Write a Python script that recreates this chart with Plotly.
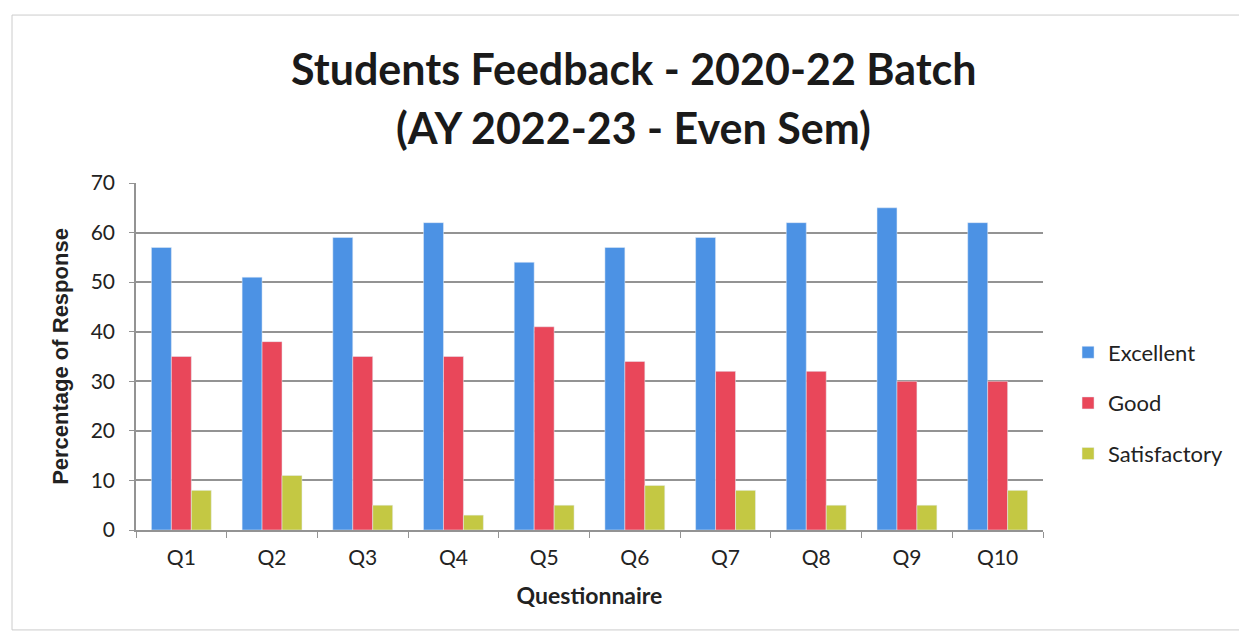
import plotly.graph_objects as go

categories = ["Q1", "Q2", "Q3", "Q4", "Q5", "Q6", "Q7", "Q8", "Q9", "Q10"]
excellent = [57, 51, 59, 62, 54, 57, 59, 62, 65, 62]
good = [35, 38, 35, 35, 41, 34, 32, 32, 30, 30]
satisfactory = [8, 11, 5, 3, 5, 9, 8, 5, 5, 8]

title_line1 = "Students Feedback - 2020-22 Batch"
title_line2 = "(AY 2022-23 - Even Sem)"

fig = go.Figure()
fig.add_trace(go.Bar(x=categories, y=excellent, name="Excellent", marker_color="#4C92E4", legendgroup="a"))
fig.add_trace(go.Bar(x=categories, y=good, name="Good", marker_color="#E9475A", legendgroup="b"))
fig.add_trace(go.Bar(x=categories, y=satisfactory, name="Satisfactory", marker_color="#C4C843", legendgroup="c"))

fig.update_layout(
    width=1239, height=636,
    paper_bgcolor="white", plot_bgcolor="white",
    barmode="group", bargap=0.34, bargroupgap=0,
    margin=dict(l=128, r=204, t=175, b=114),
    font=dict(family="Lato", color="#222222"),
    legend=dict(
        x=1.0276, xanchor="left", y=0.366, yanchor="middle",
        font=dict(family="Lato", size=22, color="#222222"),
        tracegroupgap=19, itemwidth=30,
    ),
    showlegend=True,
)
fig.add_annotation(text=title_line1, xref="paper", yref="paper", x=0.549, y=1.331,
                   xanchor="center", yanchor="middle", showarrow=False,
                   font=dict(family="Lato", size=43, color="#1a1a1a", weight="bold"))
fig.add_annotation(text=title_line2, xref="paper", yref="paper", x=0.549, y=1.159,
                   xanchor="center", yanchor="middle", showarrow=False,
                   font=dict(family="Lato", size=43, color="#1a1a1a", weight="bold"))
fig.update_yaxes(
    range=[0, 70], dtick=10,
    showgrid=True, gridcolor="#939393", gridwidth=1.5,
    showline=True, linecolor="#939393", linewidth=1.5,
    ticks="outside", ticklen=5, tickcolor="#939393",
    ticklabelstandoff=10,
    tickfont=dict(family="Lato", size=21, color="#222222"),
    title=dict(text="Percentage of Response", font=dict(family="Arial", size=22, color="#222222", weight="bold"), standoff=16),
    zeroline=False,
)
fig.update_xaxes(
    showline=True, linecolor="#939393", linewidth=1.5,
    ticks="outside", ticklen=6, tickcolor="#939393", tickson="boundaries",
    ticklabelstandoff=8,
    tickfont=dict(family="Lato", size=21, color="#222222"),
    title=dict(text="Questionnaire", font=dict(family="Lato", size=23, color="#222222", weight="bold"), standoff=20),
)
fig.add_shape(type="rect", xref="paper", yref="paper",
              x0=-0.1367, x1=1.217, y0=-0.288, y1=1.484,
              line=dict(color="#cccccc", width=1))
fig.write_html("out.html")
